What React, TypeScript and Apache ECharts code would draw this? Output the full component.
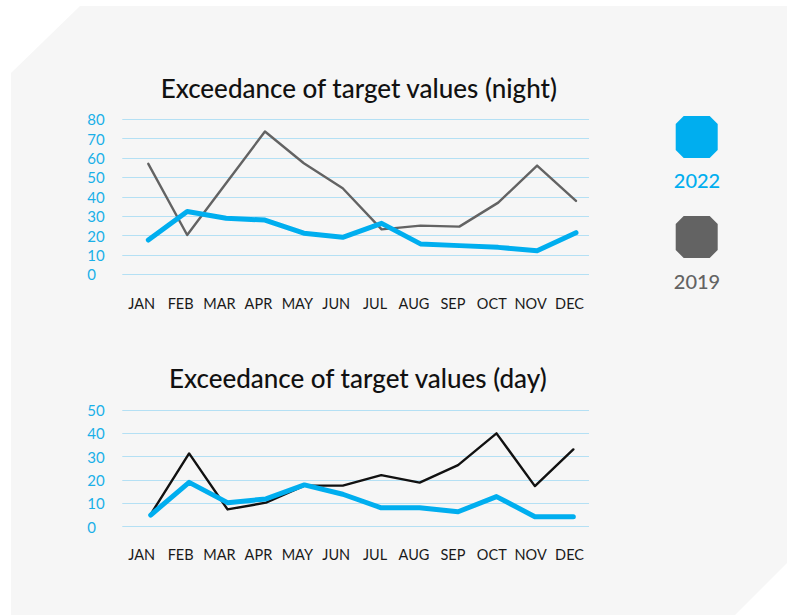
import React, { useEffect, useRef } from "react";
import * as echarts from "echarts";

const months = ["JAN", "FEB", "MAR", "APR", "MAY", "JUN", "JUL", "AUG", "SEP", "OCT", "NOV", "DEC"];
const seriesNames = ["2022", "2019"];
const night2022 = [17.7, 32.4, 28.9, 28, 21.2, 19.1, 26.3, 15.7, 14.8, 13.9, 12.2, 21.5];
const night2019 = [57, 20.3, 47, 73.7, 57.3, 44.4, 23.2, 25.1, 24.6, 37, 56.1, 37.9];
const day2022 = [5, 19, 10.3, 11.9, 17.9, 13.9, 8.1, 8.1, 6.4, 12.9, 4.3, 4.3];
const day2019 = [5.3, 31.4, 7.4, 10.3, 17.6, 17.6, 22.1, 18.9, 26.4, 40, 17.4, 33.1];
const titles = ["Exceedance of target values (night)", "Exceedance of target values (day)"];
const nightTicks = { min: 0, max: 80, interval: 10 };
const dayTicks = { min: 0, max: 50, interval: 10 };

const BLUE = "#00aeef";
const GRAY = "#636363";
const FONT = "Lato, 'Noto Sans', sans-serif";

function octagon(x0: number, y0: number, s: number, c: number) {
  const x1 = x0 + s;
  const y1 = y0 + s;
  return [
    [x0 + c, y0], [x1 - c, y0], [x1, y0 + c], [x1, y1 - c],
    [x1 - c, y1], [x0 + c, y1], [x0, y1 - c], [x0, y0 + c],
  ];
}

export default function App() {
  const ref = useRef<HTMLDivElement>(null);
  useEffect(() => {
    if (!ref.current) return;
    const chart = echarts.init(ref.current, null, { renderer: "svg" });
    const toPairs = (arr: number[]) => arr.map((v, i) => [i, v]);
    const gridLeft = 122.3;
    const gridWidth = 466.7;
    const catAxis = (gridIndex: number, margin: number) => ({
      type: "category",
      gridIndex,
      data: months,
      boundaryGap: true,
      axisLine: { show: false },
      axisTick: { show: false },
      splitLine: { show: false },
      axisLabel: { color: "#1a1a1a", fontSize: 14.5, fontFamily: FONT, margin, interval: 0 },
    });
    const valX = (gridIndex: number, min: number, max: number) => ({
      type: "value",
      gridIndex,
      min,
      max,
      show: false,
    });
    const yAx = (gridIndex: number, t: { min: number; max: number; interval: number }) => ({
      type: "value",
      gridIndex,
      min: t.min,
      max: t.max,
      interval: t.interval,
      axisLine: { show: false },
      axisTick: { show: false },
      splitLine: { show: true, lineStyle: { color: "#b4e0f4", width: 1.2 } },
      axisLabel: { color: "#1ab0e8", fontSize: 15, fontFamily: FONT, align: "left", margin: 35 },
    });
    const line = (name: string, data: number[], xi: number, yi: number, color: string, width: number, z: number) => ({
      type: "line",
      name,
      xAxisIndex: xi,
      yAxisIndex: yi,
      data: toPairs(data),
      symbol: "none",
      z,
      lineStyle: { color, width, join: "round", cap: "round" },
    });
    chart.setOption({
      animation: false,
      backgroundColor: "#ffffff",
      grid: [
        { left: gridLeft, width: gridWidth, top: 119.3, height: 155 },
        { left: gridLeft, width: gridWidth, top: 410, height: 116.7 },
      ],
      xAxis: [
        catAxis(0, 22),
        valX(0, -0.669, 11.335),
        catAxis(1, 20),
        valX(1, -0.739, 11.408),
      ],
      yAxis: [yAx(0, nightTicks), yAx(1, dayTicks)],
      series: [
        line(seriesNames[1], night2019, 1, 0, GRAY, 2.4, 2),
        line(seriesNames[0], night2022, 1, 0, BLUE, 5, 3),
        line(seriesNames[1], day2019, 3, 1, "#111111", 2.4, 2),
        line(seriesNames[0], day2022, 3, 1, BLUE, 5, 3),
      ],
      graphic: [
        {
          type: "polygon",
          z: -10,
          silent: true,
          shape: { points: [[80, 6], [787, 6], [787, 563], [735, 615], [11, 615], [11, 73]] },
          style: { fill: "#f6f6f6" },
        },
        {
          type: "text",
          x: 358.8,
          y: 88,
          style: { text: titles[0], fill: "#111", font: `500 26px ${FONT}`, textAlign: "center", textVerticalAlign: "middle" },
        },
        {
          type: "text",
          x: 357.8,
          y: 378,
          style: { text: titles[1], fill: "#111", font: `500 26px ${FONT}`, textAlign: "center", textVerticalAlign: "middle" },
        },
        {
          type: "polygon",
          shape: { points: octagon(675.7, 116, 42, 8) },
          style: { fill: BLUE },
        },
        {
          type: "text",
          x: 697,
          y: 180,
          style: { text: seriesNames[0], fill: BLUE, font: `500 20px ${FONT}`, textAlign: "center", textVerticalAlign: "middle" },
        },
        {
          type: "polygon",
          shape: { points: octagon(675.7, 216, 42, 8) },
          style: { fill: GRAY },
        },
        {
          type: "text",
          x: 697,
          y: 281,
          style: { text: seriesNames[1], fill: GRAY, font: `500 20px ${FONT}`, textAlign: "center", textVerticalAlign: "middle" },
        },
      ],
    });
    return () => chart.dispose();
  }, []);
  return <div ref={ref} style={{ position: "absolute", left: 0, top: 0, width: 787, height: 615 }} />;
}
